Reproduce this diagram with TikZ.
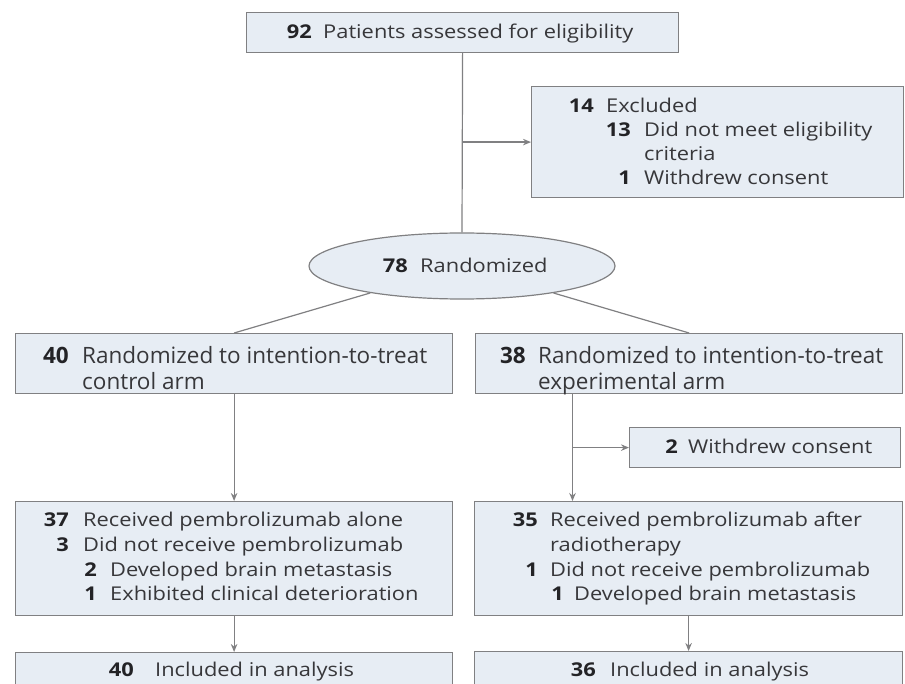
\documentclass[tikz,border=0pt]{standalone}
\usepackage{fontspec}
\setmainfont[FakeStretch=1.15]{Open Sans}
\newfontfamily\ittfont{Open Sans}
\usetikzlibrary{shapes.geometric,arrows.meta}
\definecolor{boxfill}{RGB}{231,237,244}
\definecolor{boxline}{RGB}{128,128,130}
\definecolor{txt}{RGB}{55,55,58}
\definecolor{numc}{RGB}{35,35,38}
\begin{document}
\begin{tikzpicture}[x=1pt,y=-1pt,
  box/.style={draw=boxline, fill=boxfill, line width=1.2pt, rectangle, inner sep=0pt, anchor=north west},
  conn/.style={draw=boxline, line width=1.2pt},
  arr/.style={conn, -{Stealth[length=8pt,width=6.5pt]}},
  num/.style={anchor=mid east, inner sep=0pt, yshift=-4pt, text=numc, font=\fontsize{19}{23}\selectfont\bfseries},
  lbl/.style={anchor=mid west, inner sep=0pt, yshift=-4pt, text=txt, font=\fontsize{19}{23}\selectfont},
  numI/.style={anchor=mid east, inner sep=0pt, yshift=-4pt, text=numc, font=\ittfont\fontsize{22.5}{26}\selectfont\bfseries},
  lblI/.style={anchor=mid west, inner sep=0pt, yshift=-4pt, text=txt, font=\ittfont\fontsize{22.5}{26}\selectfont},
]
\clip (0,0) rectangle (905,684);
\fill[white] (0,0) rectangle (905,684);

% boxes
\node[box, minimum width=432pt, minimum height=40pt] (top) at (246,12) {};
\node[box, minimum width=372pt, minimum height=111pt] (excl) at (531,86) {};
\node[draw=boxline, fill=boxfill, line width=1.2pt, ellipse, inner sep=0pt,
      minimum width=306pt, minimum height=66pt] (rand) at (462,266) {};
\node[box, minimum width=437pt, minimum height=60pt] (ittL) at (15,333) {};
\node[box, minimum width=427pt, minimum height=60pt] (ittR) at (475,333) {};
\node[box, minimum width=271pt, minimum height=40pt] (wd) at (629,427) {};
\node[box, minimum width=437pt, minimum height=114pt] (recL) at (15,501) {};
\node[box, minimum width=428pt, minimum height=114pt] (recR) at (474,501) {};
\node[box, minimum width=437pt, minimum height=60pt] (anL) at (15,652) {};
\node[box, minimum width=428pt, minimum height=60pt] (anR) at (474,651) {};

% connectors
\coordinate (ex) at (top.south |- excl.west);
\draw[conn] (top.south) -- (rand.north);
\draw[arr] (ex) -- (excl.west);
\draw[conn] (rand) -- (ittL.north);
\draw[conn] (rand) -- (ittR.north);
\draw[arr] (ittL.south) -- (recL.north);
\coordinate (rv) at (572.5,0);
\coordinate (rvt) at (rv |- ittR.south);
\coordinate (rvb) at (rv |- recR.north);
\coordinate (rvm) at (rv |- wd.west);
\draw[arr] (rvt) -- (rvb);
\draw[arr] (rvm) -- (wd.west);
\draw[arr] (recL.south) -- (anL.north);
\draw[arr] (recR.south) -- (anR.north);

% texts
\node[num] (t1n) at (312,32) {92};
\node[lbl] (t1t) at (323,32) {Patients assessed for eligibility};

\node[num] (e1n) at (594,106) {14};
\node[lbl] (e1t) at (606,106) {Excluded};
\node[num] (e2n) at (631,130) {13};
\node[lbl] (e2t) at (644,130) {Did not meet eligibility};
\node[lbl] (e3t) at (644,154) {criteria};
\node[num] (e4n) at (631,178) {1};
\node[lbl] (e4t) at (644,178) {Withdrew consent};

\node[num] (r1n) at (408,266) {78};
\node[lbl] (r1t) at (420,266) {Randomized};

\node[numI] (l1n) at (69,357) {40};
\node[lblI] (l1t) at (82,357) {Randomized to intention-to-treat};
\node[lblI] (l2t) at (82,383) {control arm};
\node[numI] (x1n) at (526,357) {38};
\node[lblI] (x1t) at (538,357) {Randomized to intention-to-treat};
\node[lblI] (x2t) at (538,383) {experimental arm};

\node[num] (w1n) at (678,447) {2};
\node[lbl] (w1t) at (688,447) {Withdrew consent};

\node[num] (a1n) at (69,520) {37};
\node[lbl] (a1t) at (83,520) {Received pembrolizumab alone};
\node[num] (a2n) at (69,545) {3};
\node[lbl] (a2t) at (83,545) {Did not receive pembrolizumab};
\node[num] (a3n) at (97,570) {2};
\node[lbl] (a3t) at (110,570) {Developed brain metastasis};
\node[num] (a4n) at (97,594) {1};
\node[lbl] (a4t) at (110,594) {Exhibited clinical deterioration};

\node[num] (b1n) at (538,520) {35};
\node[lbl] (b1t) at (550,520) {Received pembrolizumab after};
\node[lbl] (b2t) at (550,545) {radiotherapy};
\node[num] (b3n) at (538,570) {1};
\node[lbl] (b3t) at (550,570) {Did not receive pembrolizumab};
\node[num] (b4n) at (564,594) {1};
\node[lbl] (b4t) at (574,594) {Developed brain metastasis};

\node[num] (c1n) at (134,670) {40};
\node[lbl] (c1t) at (155,670) {Included in analysis};
\node[num] (d1n) at (596,670) {36};
\node[lbl] (d1t) at (610,670) {Included in analysis};
\end{tikzpicture}
\end{document}
